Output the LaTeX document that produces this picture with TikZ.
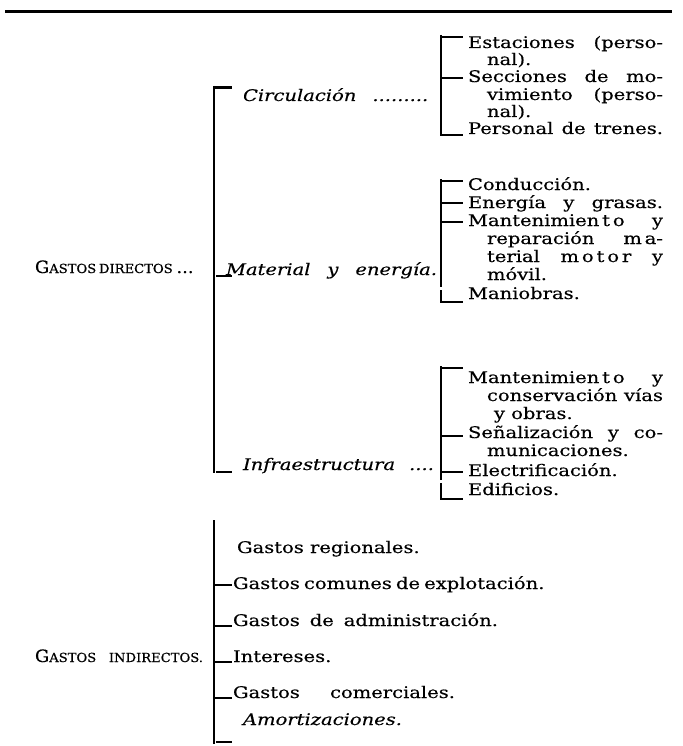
\documentclass[tikz,border=0pt]{standalone}
\usepackage{fontspec}
\setmainfont{DejaVu Serif}[FakeStretch=1.22,FakeBold=0.3]
\newfontfamily\labfont{DejaVu Serif}[FakeStretch=1.05,FakeBold=0.4]
\newcommand{\smc}[1]{{\fontsize{12.5}{14}\selectfont #1}}
\newcommand{\lsp}[1]{{\addfontfeature{LetterSpace=18}#1}}
\begin{document}
\begin{tikzpicture}[x=1pt,y=-1pt,
  txt/.style={anchor=base west, inner sep=0pt, outer sep=0pt, font=\fontsize{16}{18}\selectfont},
  itx/.style={anchor=base west, inner sep=0pt, outer sep=0pt, font=\fontsize{16}{18}\selectfont\itshape},
  lab/.style={anchor=base west, inner sep=0pt, outer sep=0pt, font=\labfont\fontsize{17}{18}\selectfont},
  brk/.style={line width=1.7pt},
  tk/.style={line width=2.6pt},
  toprule/.style={line width=3pt}]
\useasboundingbox (0,0) rectangle (682,746);
\fill[white] (0,0) rectangle (682,746);
% top rule
\coordinate (rl) at (5,12);
\coordinate (rr) at (672,12);
\draw[toprule] (rl) -- (rr);

% ---------- left labels
\node[lab] (gd) at (35,273) {\makebox[145pt][s]{G\smc{ASTOS DIRECTOS} ...}};
\node[lab] (gi) at (35,662) {\makebox[168pt][s]{G\smc{ASTOS INDIRECTOS.}}};

% ---------- main bracket
\coordinate (mbT) at (214,86);
\coordinate (mbB) at (214,473);
\draw[brk] (mbT) -- (mbB);
\draw[tk] (214,87.5) -- (232,87.5);
\draw[tk] (216,276) -- (232,276);
\draw[tk] (216,472) -- (232,472);
\node[itx] (circ) at (243,101) {Circulación\hspace{16pt}.........};
\node[itx] (mat) at (226,275) {\makebox[211pt][s]{Material y energía.}};
\node[itx] (inf) at (243,470) {Infraestructura\hspace{14pt}....};

% ---------- bracket 1
\coordinate (b1T) at (441,35);
\coordinate (b1B) at (441,136);
\draw[brk] (b1T) -- (b1B);
\draw[tk] (441,37) -- (463,37);
\draw[tk] (441,78) -- (463,78);
\draw[tk] (441,135) -- (463,135);
\node[txt] (r1a) at (468,48) {\makebox[195pt][s]{Estaciones (perso-}};
\node[txt] (r1b) at (487,65) {nal).};
\node[txt] (r1c) at (468,82) {\makebox[195pt][s]{Secciones de mo-}};
\node[txt] (r1d) at (487,100) {\makebox[176pt][s]{vimiento (perso-}};
\node[txt] (r1e) at (487,117) {nal).};
\node[txt] (r1f) at (468,134) {\makebox[195pt][s]{Personal de trenes.}};

% ---------- bracket 2
\coordinate (b2T) at (441,179);
\coordinate (b2M) at (441,287);
\coordinate (b2N) at (441,290);
\coordinate (b2B) at (441,303);
\draw[brk] (b2T) -- (b2M);
\draw[brk] (b2N) -- (b2B);
\draw[tk] (441,181) -- (463,181);
\draw[tk] (441,203) -- (463,203);
\draw[tk] (441,222) -- (463,222);
\draw[tk] (441,302) -- (463,302);
\node[txt] (r2a) at (468,190) {Conducción.};
\node[txt] (r2b) at (468,208) {\makebox[195pt][s]{Energía y grasas.}};
\node[txt] (r2c) at (468,226) {\makebox[195pt][s]{Mantenimie\lsp{nto} y}};
\node[txt] (r2d) at (487,244) {\makebox[176pt][s]{reparación \lsp{ma}-}};
\node[txt] (r2e) at (487,262) {\makebox[176pt][s]{terial \lsp{motor} y}};
\node[txt] (r2f) at (487,280) {móvil.};
\node[txt] (r2g) at (468,299) {Maniobras.};

% ---------- bracket 3
\coordinate (b3T) at (441,366);
\coordinate (b3M) at (441,480);
\coordinate (b3N) at (441,483);
\coordinate (b3B) at (441,500);
\draw[brk] (b3T) -- (b3M);
\draw[brk] (b3N) -- (b3B);
\draw[tk] (441,368) -- (463,368);
\draw[tk] (441,436) -- (463,436);
\draw[tk] (441,472) -- (463,472);
\draw[tk] (441,499) -- (463,499);
\node[txt] (r3a) at (468,383) {\makebox[195pt][s]{Mantenimie\lsp{nto} y}};
\node[txt] (r3b) at (487,401) {\makebox[176pt][s]{conservación vías}};
\node[txt] (r3c) at (494,419) {y obras.};
\node[txt] (r3d) at (468,438) {\makebox[195pt][s]{Señalización y co-}};
\node[txt] (r3e) at (487,456) {municaciones.};
\node[txt] (r3f) at (468,476) {Electrificación.};
\node[txt] (r3g) at (468,495) {Edificios.};

% ---------- bottom bracket
\coordinate (b4T) at (214,520);
\coordinate (b4B) at (214,744);
\draw[brk] (b4T) -- (b4B);
\draw[tk] (214,585) -- (232,585);
\draw[tk] (214,626) -- (232,626);
\draw[tk] (214,662) -- (232,662);
\draw[tk] (214,698) -- (232,698);
\draw[tk] (216,742) -- (232,742);
\node[txt] (s1) at (237,553) {Gastos regionales.};
\node[txt] (s2) at (233,589) {\makebox[307pt][s]{Gastos comunes de explotación.}};
\node[txt] (s3) at (233,626) {\makebox[265pt][s]{Gastos de administración.}};
\node[txt] (s4) at (233,662) {Intereses.};
\node[txt] (s5) at (233,698) {\makebox[222pt][s]{Gastos comerciales.}};
\node[itx] (s6) at (243,725) {Amortizaciones.};
\end{tikzpicture}
\end{document}
